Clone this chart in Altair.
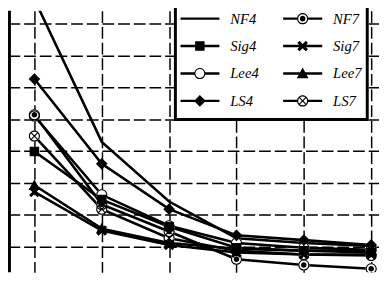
import altair as alt
import pandas as pd

# ---------------- data ----------------
steps = [1, 2, 3, 4, 5, 6]
# legend fills column by column: left column NF4, Sig4, Lee4, LS4; right column the "7" series
legend_order = ["NF4", "Sig4", "Lee4", "LS4", "NF7", "Sig7", "Lee7", "LS7"]
draw_order = ["NF4", "Lee4", "Sig4", "Sig7", "Lee7", "LS4", "LS7", "NF7"]

nf4 = [8.76, 4.29, 2.42, 1.27, 1.12, 1.03]
nf7 = [5.14, 2.33, 1.48, 0.61, 0.43, 0.31]
sig4 = [3.99, 2.48, 1.63, 0.97, 0.88, 0.82]
sig7 = [2.72, 1.51, 1.06, 0.82, 0.76, 0.76]
lee4 = [5.10, 2.63, 1.66, 1.12, 0.97, 0.91]
lee7 = [2.93, 1.57, 1.12, 0.94, 0.88, 0.88]
ls4 = [6.26, 3.60, 2.18, 1.36, 1.21, 1.06]
ls7 = [4.47, 2.18, 1.27, 0.88, 0.76, 0.73]

grid_x = [1, 2, 3, 4, 5, 6]
grid_y = [1, 2, 3, 4, 5, 6, 7, 8]

series_values = {"NF4": nf4, "NF7": nf7, "Sig4": sig4, "Sig7": sig7,
                 "Lee4": lee4, "Lee7": lee7, "LS4": ls4, "LS7": ls7}

rows = []
for k, name in enumerate(draw_order):
    for s, v in zip(steps, series_values[name]):
        rows.append({"series": name, "step": s, "value": v, "ord": k})
df = pd.DataFrame(rows)

# ---------------- marker shapes (SVG paths) ----------------
def disk(r, cw=True):
    s = 1 if cw else 0
    return f"M{r:g},0A{r:g},{r:g},0,1,{s},{-r:g},0A{r:g},{r:g},0,1,{s},{r:g},0Z"

def ring(ro, ri):
    return disk(ro) + disk(ri, cw=False)

def square(h):
    return f"M{-h:g},{-h:g}H{h:g}V{h:g}H{-h:g}Z"

def diamond(h):
    return f"M0,{-h:g}L{h:g},0L0,{h:g}L{-h:g},0Z"

def triangle(h):
    return f"M0,{-h:g}L{h:g},{0.8 * h:g}L{-h:g},{0.8 * h:g}Z"

def poly(pts, h):
    return "M" + "L".join(f"{x * h:g},{y * h:g}" for x, y in pts) + "Z"

def xcross(h):
    pts = [(-1, -0.6), (-0.6, -1), (0, -0.4), (0.6, -1), (1, -0.6), (0.4, 0),
           (1, 0.6), (0.6, 1), (0, 0.4), (-0.6, 1), (-1, 0.6), (-0.4, 0)]
    return poly(pts, h)

def xarms(h):
    a = [(-0.64, -0.5), (-0.5, -0.64), (0.64, 0.5), (0.5, 0.64)]
    b = [(0.5, -0.64), (0.64, -0.5), (-0.5, 0.64), (-0.64, 0.5)]
    return poly(a, h) + poly(b, h)

circle_types = ["NF7", "Lee4", "LS7"]

def marker(name, k):
    if name == "NF4":
        return ""
    if name == "NF7":
        return ring(k, 0.8 * k) + disk(0.5 * k)
    if name == "Sig4":
        return square(0.85 * k)
    if name == "Sig7":
        return xcross(0.95 * k)
    if name == "Lee4":
        return ring(k, 0.8 * k)
    if name == "Lee7":
        return triangle(1.05 * k)
    if name == "LS4":
        return diamond(1.05 * k)
    if name == "LS7":
        return ring(k, 0.8 * k) + xarms(k)

LK = 0.285
HL = 0.0625

def legend_path(name):
    if name in circle_types:
        ri = 0.8 * LK
        line = (f"M-1,{-HL:g}H{-ri:g}V{HL:g}H-1Z"
                f"M{ri:g},{-HL:g}H1V{HL:g}H{ri:g}Z")
    else:
        line = f"M-1,{-HL:g}H1V{HL:g}H-1Z"
    return line + marker(name, LK)

marker_names = [n for n in legend_order if n != "NF4"]
marker_paths = [marker(n, 1.0) for n in marker_names]
legend_paths = [legend_path(n) for n in legend_order]

# ---------------- chart ----------------
W, H = 379, 267
xs = alt.Scale(domain=[0.608, 6.116], nice=False, zero=False)
ys = alt.Scale(domain=[0.205, 8.397], nice=False, zero=False)

grid_style = dict(grid=True, labels=False, ticks=False, domain=False, title=None,
                  gridDash=[12, 4], gridColor="black", gridWidth=1.5, gridOpacity=1)

X = alt.X("step:Q", scale=xs, axis=alt.Axis(values=grid_x, **grid_style))
Y = alt.Y("value:Q", scale=ys, axis=alt.Axis(values=grid_y, **grid_style))

lines = alt.Chart(df).mark_line(color="black", strokeWidth=2.6, clip=True).encode(
    x=X, y=Y, detail="series:N", order="step:Q"
)

backing = alt.Chart(df).transform_filter(
    alt.FieldOneOfPredicate(field="series", oneOf=circle_types)
).mark_point(shape="circle", size=130, filled=True, color="white", opacity=1, clip=True).encode(
    x=X, y=Y
)

points = alt.Chart(df).transform_filter("datum.series != 'NF4'").mark_point(
    filled=True, size=130, color="black", opacity=1, strokeWidth=0, clip=True
).encode(
    x=X, y=Y,
    shape=alt.Shape("series:N", scale=alt.Scale(domain=marker_names, range=marker_paths), legend=None),
)

legend_layer = alt.Chart(df).mark_point(
    filled=True, color="black", opacity=0, size=10, clip=True
).encode(
    x=X, y=Y,
    shape=alt.Shape(
        "series:N",
        scale=alt.Scale(domain=legend_order, range=legend_paths),
        legend=alt.Legend(orient="none", legendX=171, legendY=-11, columns=2, title=None,
                          labelExpr="datum.label + '\u00a0'"),
    ),
)

left_border = alt.Chart(pd.DataFrame({"a": [0]})).mark_rule(color="black", strokeWidth=3).encode(
    x=alt.value(1.5), y=alt.value(0), y2=alt.value(H)
)

chart = alt.layer(lines, backing, points, legend_layer, left_border).resolve_scale(
    shape="independent"
).properties(
    width=W, height=H, autosize=alt.AutoSizeParams(type="none"), padding=0,
    background="white",
).configure_view(stroke=None).configure_legend(
    strokeColor="black", strokeWidth=3, fillColor="white", padding=5,
    symbolSize=1600, symbolStrokeWidth=0, symbolFillColor="black", symbolStrokeColor="black",
    symbolOpacity=1, symbolOffset=0,
    labelFont="Liberation Serif", labelFontStyle="italic", labelFontSize=15,
    labelColor="black", labelOffset=11, columnPadding=24, rowPadding=0, clipHeight=28,
)

chart.save("out.html", embed_options={"renderer": "svg", "actions": False})
